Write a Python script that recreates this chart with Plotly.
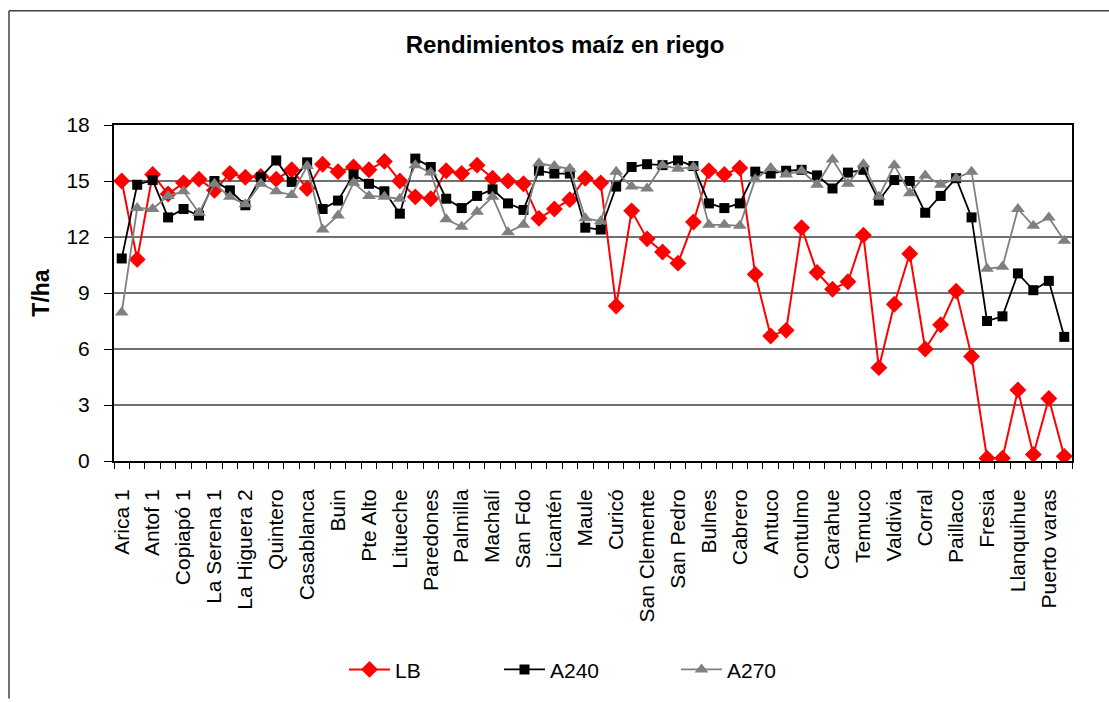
import plotly.graph_objects as go

# Tick labels (every other site is labelled on the axis)
labels = ["Arica 1", "Antof 1", "Copiapó 1", "La Serena 1", "La Higuera 2", "Quintero",
          "Casablanca", "Buin", "Pte Alto", "Litueche", "Paredones", "Palmilla", "Machalí",
          "San Fdo", "Licantén", "Maule", "Curicó", "San Clemente", "San Pedro", "Bulnes",
          "Cabrero", "Antuco", "Contulmo", "Carahue", "Temuco", "Valdivia", "Corral",
          "Paillaco", "Fresia", "Llanquihue", "Puerto varas"]

LB = [15.0, 10.8, 15.35, 14.3, 14.9, 15.1, 14.5, 15.4, 15.2, 15.25,
      15.1, 15.6, 14.6, 15.9, 15.5, 15.75, 15.6, 16.05, 15.0, 14.15,
      14.05, 15.55, 15.4, 15.85, 15.15, 15.0, 14.85, 13.0, 13.5, 14.0,
      15.15, 14.9, 8.3, 13.4, 11.9, 11.2, 10.6, 12.8, 15.55, 15.35,
      15.7, 10.0, 6.7, 7.0, 12.5, 10.1, 9.2, 9.6, 12.1, 5.0,
      8.4, 11.1, 6.0, 7.3, 9.1, 5.6, 0.15, 0.15, 3.8, 0.35,
      3.35, 0.25]

A240 = [10.85, 14.8, 15.05, 13.05, 13.5, 13.15, 15.0, 14.5, 13.7, 15.2,
        16.1, 14.95, 16.0, 13.5, 13.95, 15.35, 14.85, 14.45, 13.25, 16.2,
        15.75, 14.05, 13.55, 14.2, 14.55, 13.8, 13.45, 15.55, 15.4, 15.4,
        12.5, 12.4, 14.7, 15.75, 15.9, 15.85, 16.1, 15.8, 13.8, 13.55,
        13.8, 15.5, 15.4, 15.55, 15.6, 15.3, 14.6, 15.45, 15.6, 13.95,
        15.05, 15.0, 13.3, 14.2, 15.15, 13.05, 7.5, 7.75, 10.05, 9.15,
        9.65, 6.65]

A270 = [7.95, 13.55, 13.5, 14.2, 14.45, 13.3, 14.85, 14.15, 13.75, 14.85,
        14.45, 14.25, 15.8, 12.4, 13.15, 14.9, 14.2, 14.15, 14.05, 15.85,
        15.45, 12.95, 12.55, 13.35, 14.15, 12.25, 12.65, 15.95, 15.8, 15.65,
        13.0, 12.85, 15.5, 14.7, 14.6, 15.85, 15.65, 15.75, 12.65, 12.65,
        12.6, 15.1, 15.7, 15.35, 15.55, 14.8, 16.15, 14.85, 15.9, 14.15,
        15.85, 14.35, 15.3, 14.8, 15.15, 15.5, 10.3, 10.4, 13.5, 12.6,
        13.05, 11.8]

n = len(LB)
x = list(range(n))
label_pos = list(range(0, n, 2))
boundaries = [i - 0.5 for i in range(n + 1)]

FONT = "Liberation Sans, Arial, sans-serif"
W, H = 1109, 702
L, R, T, B = 114, 37, 125, 239
PW, PH = W - L - R, H - T - B


def px_x(p):
    return (p - L) / PW


def px_y(p):
    return (H - B - p) / PH


fig = go.Figure()
fig.add_trace(go.Scatter(x=x, y=LB, name="LB", mode="lines+markers", legend="legend",
                         line=dict(color="#FF0000", width=2),
                         marker=dict(symbol="diamond", size=13, color="#FF0000")))
fig.add_trace(go.Scatter(x=x, y=A240, name="A240", mode="lines+markers", legend="legend2",
                         line=dict(color="#000000", width=1.8),
                         marker=dict(symbol="square", size=10, color="#000000")))
fig.add_trace(go.Scatter(x=x, y=A270, name="A270", mode="lines+markers", legend="legend3",
                         line=dict(color="#808080", width=1.8),
                         marker=dict(symbol="triangle-up", size=12, color="#808080")))

leg_common = dict(orientation="h", xanchor="left", yanchor="middle", y=px_y(673),
                  font=dict(size=21), bgcolor="rgba(0,0,0,0)", itemwidth=41)

border = dict(color="#404040", width=1.5)

fig.update_layout(
    width=W, height=H,
    margin=dict(l=L, r=R, t=T, b=B),
    paper_bgcolor="white", plot_bgcolor="white",
    font=dict(family=FONT, color="black", size=21),
    title=dict(text="<b>Rendimientos maíz en riego</b>", xref="container", x=565 / W,
               xanchor="center", y=1 - 45 / H, yanchor="middle", font=dict(size=24)),
    showlegend=True,
    legend=dict(x=px_x(344), **leg_common),
    legend2=dict(x=px_x(499), **leg_common),
    legend3=dict(x=px_x(676), **leg_common),
    shapes=[
        dict(type="line", xref="paper", yref="paper",
             x0=px_x(9), x1=px_x(W), y0=px_y(10), y1=px_y(10), line=border, layer="below"),
        dict(type="line", xref="paper", yref="paper",
             x0=px_x(9), x1=px_x(9), y0=px_y(10), y1=px_y(H), line=border, layer="below"),
    ],
)

fig.update_xaxes(
    range=[-0.5, n - 0.5], tickmode="array", tickvals=label_pos, ticktext=labels,
    tickangle=-90, ticks="", ticklabelstandoff=18,
    showgrid=False, zeroline=False,
    showline=True, linecolor="black", linewidth=2, mirror=True,
    minor=dict(tickmode="array", tickvals=boundaries, ticks="outside", ticklen=6,
               tickcolor="black", tickwidth=1, showgrid=False),
)
fig.update_yaxes(
    range=[0, 18], tickmode="linear", tick0=0, dtick=3,
    ticks="outside", ticklen=8, tickcolor="black", ticklabelstandoff=10,
    showgrid=True, gridcolor="#707070", gridwidth=1.5, zeroline=False,
    showline=True, linecolor="black", linewidth=2, mirror=True,
    title=dict(text="<b>T/ha</b>", font=dict(size=23), standoff=10),
)

fig.write_html("out.html", config={"displayModeBar": False},
               post_script="document.body.style.margin='0';document.body.style.overflow='hidden';"
                           "document.documentElement.style.overflow='hidden';")
